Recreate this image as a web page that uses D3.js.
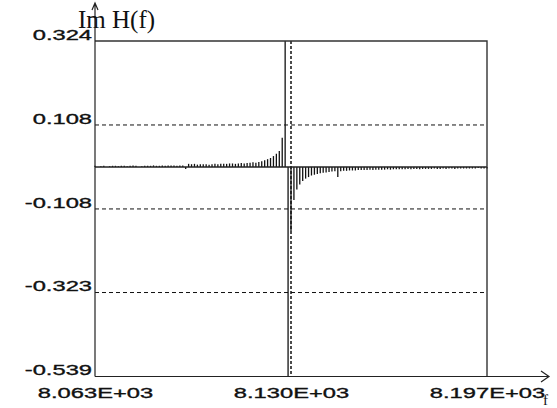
<!DOCTYPE html>
<html>
<head>
<meta charset="utf-8">
<script src="https://cdn.jsdelivr.net/npm/d3@7"></script>
<style>
  html, body { margin: 0; padding: 0; background: #ffffff; }
  svg { display: block; }
</style>
</head>
<body>
<svg id="chart" width="557" height="408"></svg>
<script>
// Imaginary part of the transfer function, sampled at 1 Hz steps
const freqStart = 8063;
const freqEnd = 8197;
const imValues = [
  0.003, 0, 0.002, 0.003, 0, 0.002, 0.003, 0.003, 0.002, 0.003,
  0.003, 0.002, 0.003, 0.004, 0.003, 0, 0.002, 0.003, 0.003, 0.003,
  0.004, 0.003, 0.003, 0.004, 0.003, 0.004, 0.004, 0.004, 0.003, 0.004,
  0.004, -0.005,
  0.008, 0.007, 0.008, 0.006, 0.007, 0.007, 0.007, 0.006, 0.007, 0.008,
  0.007, 0.008, 0.008, 0.008, 0.009, 0.009, 0.008, 0.009, 0.01, 0.009,
  0.01, 0.011, 0.012, 0.011, 0.013,
  0.015, 0.017, 0.02, 0.023, 0.028, 0.034, 0.041, 0.075,
  0.324,
  -0.539,
  -0.165,
  -0.085, -0.058, -0.045, -0.036, -0.03, -0.026, -0.022, -0.02, -0.018, -0.016,
  -0.015, -0.014, -0.013, -0.012, -0.011, -0.026, -0.011, -0.01, -0.01, -0.009,
  -0.009, -0.009, -0.008, -0.008, -0.008, -0.008, -0.007, -0.008, -0.007, -0.007,
  -0.007, -0.007, -0.006, -0.007, -0.006, -0.006, -0.006, -0.006, -0.006, -0.005,
  -0.006, -0.005, -0.005, -0.006, -0.005, -0.005, -0.005, -0.005, -0.004, -0.005,
  -0.005, -0.004, -0.005, -0.004, -0.004, -0.005, -0.004, -0.004, -0.004, -0.004,
  -0.004, -0.004, -0.004, -0.003, -0.004, -0.004, -0.004
];
const freqs = d3.range(freqStart, freqEnd + 1);

const yTickValues = [0.324, 0.108, -0.108, -0.323, -0.539];
const yTickLabels = ["0.324", "0.108", "-0.108", "-0.323", "-0.539"];
const xTickValues = [8063, 8130, 8197];
const xTickLabels = ["8.063E+03", "8.130E+03", "8.197E+03"];
const yTitle = "Im H(f)";
const xTitle = "f";

const svg = d3.select("#chart");
const plotL = 95, plotR = 487, plotT = 41, plotB = 376.5;
const labelStretch = 1.58;

const x = d3.scaleLinear().domain([freqStart, freqEnd]).range([plotL, plotR]);
const y = d3.scaleLinear().domain([-0.539, 0.324]).range([plotB, plotT]);

// dashed horizontal grid lines (inner ticks only)
svg.append("g")
  .selectAll("line")
  .data(yTickValues.slice(1, -1))
  .join("line")
  .attr("x1", plotL).attr("x2", plotR)
  .attr("y1", d => y(d)).attr("y2", d => y(d))
  .attr("stroke", "#111")
  .attr("stroke-width", 1)
  .attr("stroke-dasharray", "4,3");

// dashed vertical line at the centre frequency
svg.append("line")
  .attr("x1", x(xTickValues[1])).attr("x2", x(xTickValues[1]))
  .attr("y1", plotT).attr("y2", plotB)
  .attr("stroke", "#111")
  .attr("stroke-width", 1.5)
  .attr("stroke-dasharray", "3,2");

// stems from zero to each sample value
const y0 = y(0);
svg.append("g")
  .selectAll("line")
  .data(freqs.map((f, i) => ({ f, v: imValues[i] })))
  .join("line")
  .attr("x1", d => x(d.f)).attr("x2", d => x(d.f))
  .attr("y1", y0)
  .attr("y2", d => y(Math.max(-0.539, Math.min(0.324, d.v))))
  .attr("stroke", "#111")
  .attr("stroke-width", 1.3);

// zero line
svg.append("line")
  .attr("x1", plotL).attr("x2", plotR)
  .attr("y1", y0).attr("y2", y0)
  .attr("stroke", "#222")
  .attr("stroke-width", 1.5);

// top and right frame
svg.append("path")
  .attr("d", `M${plotL},${plotT}H${plotR}V${plotB}`)
  .attr("fill", "none")
  .attr("stroke", "#333")
  .attr("stroke-width", 1.4);

// axes with arrows
svg.append("path")
  .attr("d", `M${plotL},${plotB}V3M${plotL - 3},10L${plotL},3L${plotL + 3},10`)
  .attr("fill", "none").attr("stroke", "#222").attr("stroke-width", 1.2);
svg.append("path")
  .attr("d", `M${plotL},${plotB}H549M541,${plotB - 5.5}L549,${plotB}L541,${plotB + 5.5}`)
  .attr("fill", "none").attr("stroke", "#222").attr("stroke-width", 1.2);

// y tick labels (wide sans face)
const yAxis = d3.axisLeft(y)
  .tickValues(yTickValues)
  .tickFormat((d, i) => yTickLabels[i])
  .tickSize(0)
  .tickPadding(0);
const gy = svg.append("g").attr("transform", `translate(${plotL - 3},0)`).call(yAxis);
gy.select(".domain").remove();
gy.selectAll(".tick text")
  .attr("x", 0)
  .attr("dy", "-0.12em")
  .attr("transform", `scale(${labelStretch},1)`)
  .attr("font-family", "'Liberation Sans', Arial, sans-serif")
  .attr("font-size", 15)
  .attr("fill", "#111")
  .attr("stroke", "#111")
  .attr("stroke-width", 0.35);

// x tick labels
const xAxis = d3.axisBottom(x)
  .tickValues(xTickValues)
  .tickFormat((d, i) => xTickLabels[i])
  .tickSize(0)
  .tickPadding(0);
const gx = svg.append("g").attr("transform", `translate(0,${plotB + 21})`).call(xAxis);
gx.select(".domain").remove();
gx.selectAll(".tick text")
  .attr("y", 0)
  .attr("dy", 0)
  .attr("transform", `scale(${labelStretch},1)`)
  .attr("font-family", "'Liberation Sans', Arial, sans-serif")
  .attr("font-size", 15)
  .attr("fill", "#111")
  .attr("stroke", "#111")
  .attr("stroke-width", 0.35);

// axis titles
svg.append("text")
  .attr("x", 78).attr("y", 28)
  .attr("font-family", "'Liberation Serif', 'Times New Roman', serif")
  .attr("font-size", 25)
  .attr("fill", "#111")
  .text(yTitle);
svg.append("text")
  .attr("x", 543).attr("y", 405)
  .attr("font-family", "'Liberation Serif', 'Times New Roman', serif")
  .attr("font-size", 15)
  .attr("fill", "#111")
  .text(xTitle);
</script>
</body>
</html>
